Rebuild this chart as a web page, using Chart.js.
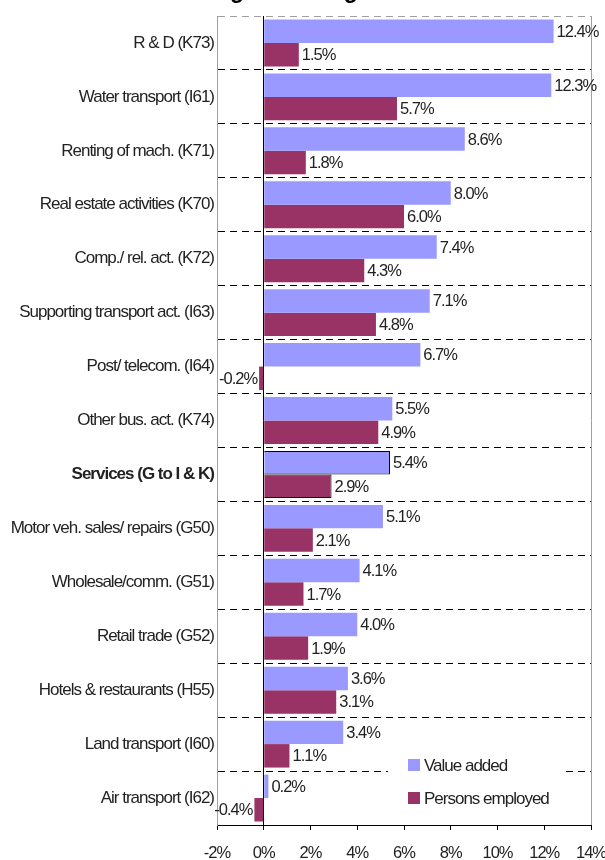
<!DOCTYPE html>
<html>
<head>
<meta charset="utf-8">
<script src="https://cdn.jsdelivr.net/npm/chart.js@4.4.1/dist/chart.umd.min.js"></script>
<style>
  html, body { margin: 0; padding: 0; background: #fff; }
</style>
</head>
<body>
<canvas id="growthChart" width="605" height="860"></canvas>
<script>
// Font Arial-like; dirapatkan dengan letterSpacing agar mirip Arial Narrow
const FONT = "'Liberation Sans', Arial, sans-serif";
const TIGHT = "-1px";
Chart.defaults.font.family = FONT;
Chart.defaults.color = "#222";

// ==========================================
// DATA
// ==========================================
const titleText = "Average annual growth rates";
const sectors = [
  "R & D (K73)",
  "Water transport (I61)",
  "Renting of mach. (K71)",
  "Real estate activities (K70)",
  "Comp./ rel. act. (K72)",
  "Supporting transport act. (I63)",
  "Post/ telecom. (I64)",
  "Other bus. act. (K74)",
  "Services (G to I & K)",
  "Motor veh. sales/ repairs (G50)",
  "Wholesale/comm. (G51)",
  "Retail trade (G52)",
  "Hotels & restaurants (H55)",
  "Land transport (I60)",
  "Air transport (I62)",
];
const valueAdded = [12.4, 12.3, 8.6, 8.0, 7.4, 7.1, 6.7, 5.5, 5.4, 5.1, 4.1, 4.0, 3.6, 3.4, 0.2];
const personsEmployed = [1.5, 5.7, 1.8, 6.0, 4.3, 4.8, -0.2, 4.9, 2.9, 2.1, 1.7, 1.9, 3.1, 1.1, -0.4];
const seriesNames = ["Value added", "Persons employed"];
const xTickValues = [-2, 0, 2, 4, 6, 8, 10, 12, 14];
const highlightIndex = 8; // baris total "Services" ditebalkan

// ==========================================
// PLUGIN: rapatkan huruf untuk semua teks grafik
// ==========================================
const tightText = {
  id: "tightText",
  beforeDraw(chart) {
    chart.ctx.letterSpacing = TIGHT;
  },
};

// ==========================================
// PLUGIN: label nilai di ujung bar
// ==========================================
const valueLabels = {
  id: "valueLabels",
  afterDatasetsDraw(chart) {
    const ctx = chart.ctx;
    ctx.save();
    ctx.letterSpacing = TIGHT;
    ctx.font = "16.5px " + FONT;
    ctx.fillStyle = "#222";
    ctx.textBaseline = "middle";
    chart.data.datasets.forEach((ds, i) => {
      chart.getDatasetMeta(i).data.forEach((bar, j) => {
        const v = ds.data[j];
        const txt = v.toFixed(1) + "%";
        if (v >= 0) {
          ctx.textAlign = "left";
          ctx.fillText(txt, bar.x + 3, bar.y + 1);
        } else {
          ctx.textAlign = "right";
          ctx.fillText(txt, bar.x - 2, bar.y + 1);
        }
      });
    });
    ctx.restore();
  },
};

// ==========================================
// PLUGIN: legenda di dalam area grafik (kanan bawah)
// ==========================================
const innerLegend = {
  id: "innerLegend",
  afterDraw(chart) {
    const ctx = chart.ctx;
    ctx.save();
    ctx.letterSpacing = TIGHT;
    ctx.fillStyle = "#fff";
    ctx.fillRect(388, 746, 175, 70);
    ctx.font = "17px " + FONT;
    ctx.textAlign = "left";
    ctx.textBaseline = "middle";
    chart.data.datasets.forEach((ds, i) => {
      const y = 765 + i * 33;
      ctx.fillStyle = ds.backgroundColor;
      ctx.fillRect(408, y - 6, 12, 12);
      ctx.fillStyle = "#222";
      ctx.fillText(ds.label, 424, y + 1);
    });
    ctx.restore();
  },
};

// ==========================================
// PLUGIN: judul (terpotong di tepi atas)
// ==========================================
const cutTitle = {
  id: "cutTitle",
  afterDraw(chart) {
    const ctx = chart.ctx;
    ctx.save();
    ctx.letterSpacing = "0px";
    ctx.font = "bold 23px " + FONT;
    ctx.fillStyle = "#000";
    ctx.textAlign = "left";
    ctx.textBaseline = "alphabetic";
    const x = 237 - ctx.measureText("Avera").width - ctx.measureText("g").width / 2;
    ctx.fillText(titleText, x, -2);
    ctx.restore();
  },
};

// ==========================================
// GRAFIK BAR HORIZONTAL
// ==========================================
const ctxBar = document.getElementById("growthChart").getContext("2d");
const growthChart = new Chart(ctxBar, {
  type: "bar",
  data: {
    labels: sectors,
    datasets: [
      {
        label: seriesNames[0],
        data: valueAdded,
        backgroundColor: "#9999FF",
        borderColor: "#000",
        borderWidth: (c) => (c.dataIndex === highlightIndex ? 1 : 0),
        categoryPercentage: 0.87,
        barPercentage: 1.0,
      },
      {
        label: seriesNames[1],
        data: personsEmployed,
        backgroundColor: "#993366",
        borderColor: "#000",
        borderWidth: (c) => (c.dataIndex === highlightIndex ? 1 : 0),
        categoryPercentage: 0.87,
        barPercentage: 1.0,
      },
    ],
  },
  options: {
    indexAxis: "y",
    responsive: false,
    animation: false,
    layout: { padding: { top: 16, right: 14, left: 0, bottom: 0 } },
    scales: {
      x: {
        min: -2,
        max: 14,
        afterBuildTicks: (s) => { s.ticks = xTickValues.map((v) => ({ value: v })); },
        afterFit: (s) => {
          s.height = 35;
          // label tepi tidak boleh menyempitkan area plot
          s.paddingLeft = 0;
          s.paddingRight = 0;
        },
        ticks: {
          callback: (v) => v + "%",
          font: { size: 16.5 },
          padding: 14,
          maxRotation: 0,
          autoSkip: false,
        },
        grid: {
          color: (c) => {
            if (!c.tick) return "transparent";
            if (c.tick.value === 0) return "#000";
            if (c.tick.value === 14) return "#a0a0a0";
            return "transparent";
          },
          tickColor: "#000",
          tickLength: 5,
        },
        border: { color: "#000", width: 1 },
      },
      y: {
        afterFit: (s) => { s.width = 217; },
        ticks: {
          font: (c) => (c.index === highlightIndex ? { size: 17, weight: "bold" } : { size: 17 }),
          color: "#222",
          padding: 3,
        },
        grid: {
          offset: true,
          color: (c) => (c.index === 0 ? "#a0a0a0" : "#000"),
          drawTicks: false,
          tickLength: 0,
        },
        border: { color: "#a0a0a0", width: 1, dash: [7, 5] },
      },
    },
    plugins: {
      legend: { display: false },
      tooltip: { enabled: false },
    },
  },
  plugins: [tightText, valueLabels, innerLegend, cutTitle],
});
</script>
</body>
</html>
